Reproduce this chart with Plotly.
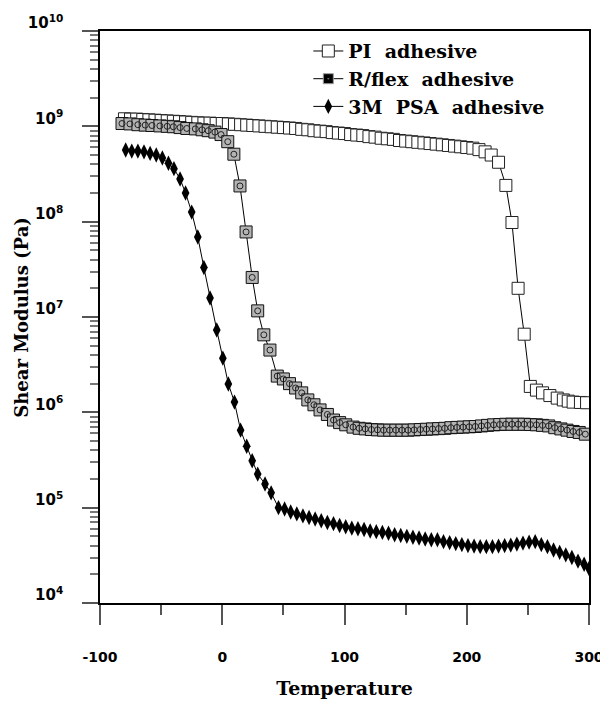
import plotly.graph_objects as go

# ---------------- data ----------------
pi_temp = [-80, -75, -70, -65, -60, -55, -50, -45, -40, -35, -30, -25, -20, -15, -10, -5,
           0, 5, 10, 15, 20, 25, 30, 35, 40, 45, 50, 55, 60, 65, 70, 75, 80, 85, 90, 95,
           100, 105, 110, 115, 120, 125, 130, 135, 140, 145, 150, 155, 160, 165, 170, 175,
           180, 185, 190, 195, 200, 205, 210, 215, 220, 226, 232, 237, 242, 247,
           252, 257, 262, 268, 274, 279, 283, 287, 293, 298]
pi_mod = [1.20e9, 1.19e9, 1.19e9, 1.18e9, 1.17e9, 1.16e9, 1.15e9, 1.14e9, 1.13e9, 1.12e9,
          1.11e9, 1.10e9, 1.09e9, 1.08e9, 1.08e9, 1.07e9, 1.07e9, 1.06e9, 1.05e9, 1.04e9,
          1.03e9, 1.02e9, 1.01e9, 1.00e9, 9.9e8, 9.8e8, 9.7e8, 9.6e8, 9.5e8, 9.3e8,
          9.2e8, 9.0e8, 8.9e8, 8.8e8, 8.6e8, 8.5e8, 8.4e8, 8.2e8, 8.1e8, 8.0e8,
          7.8e8, 7.7e8, 7.5e8, 7.4e8, 7.3e8, 7.1e8, 7.0e8, 6.9e8, 6.8e8, 6.7e8,
          6.6e8, 6.5e8, 6.4e8, 6.3e8, 6.2e8, 6.1e8, 6.0e8, 5.9e8, 5.7e8, 5.4e8,
          5.0e8, 4.2e8, 2.4e8, 9.8e7, 2.0e7, 6.6e6,
          1.87e6, 1.71e6, 1.60e6, 1.50e6, 1.41e6, 1.35e6, 1.31e6, 1.28e6, 1.27e6, 1.26e6]

rflex_temp = [-82, -75.5, -69, -63, -57.5, -51, -45, -40, -34.5, -29, -22, -16.5, -11.5, -6,
              -1, 4.5, 9.5, 14.5, 19.5, 24.5, 29, 34, 39, 45, 50, 55, 60, 65, 70, 75, 80,
              86, 91, 96, 101, 107, 112, 117, 122, 127, 132, 137, 142, 147, 152, 157, 162,
              167, 172, 177, 182, 187, 192, 197, 202, 207, 212, 217, 222, 227, 232, 237,
              242, 247, 252, 257, 262, 267, 272, 277, 282, 287, 292, 297]
rflex_mod = [1.07e9, 1.06e9, 1.04e9, 1.03e9, 1.02e9, 1.01e9, 1.00e9, 9.9e8, 9.7e8, 9.5e8,
             9.4e8, 9.2e8, 9.0e8, 8.7e8, 8.2e8, 6.9e8, 5.1e8, 2.37e8, 7.8e7, 2.6e7,
             1.16e7, 6.5e6, 4.5e6, 2.4e6, 2.24e6, 2.0e6, 1.8e6, 1.6e6, 1.35e6, 1.2e6,
             1.06e6, 9.5e5, 8.3e5, 7.8e5, 7.4e5, 7.0e5, 6.8e5, 6.7e5, 6.6e5, 6.55e5,
             6.5e5, 6.5e5, 6.5e5, 6.5e5, 6.5e5, 6.55e5, 6.6e5, 6.65e5, 6.7e5, 6.75e5,
             6.8e5, 6.9e5, 6.95e5, 7.0e5, 7.05e5, 7.1e5, 7.2e5, 7.3e5, 7.4e5, 7.45e5,
             7.5e5, 7.5e5, 7.5e5, 7.5e5, 7.45e5, 7.4e5, 7.3e5, 7.2e5, 6.9e5, 6.7e5,
             6.5e5, 6.3e5, 6.15e5, 5.9e5]

psa_temp = [-79, -74, -69, -64, -59, -54, -49, -44, -39.5, -34.5, -30, -25, -20, -15, -10,
            -4.5, 0.5, 5, 10, 15, 20, 24.5, 29, 35, 40, 46, 51, 56, 61, 66, 71, 76, 81, 86,
            91, 96, 101, 106, 111, 116, 121, 126, 131, 136, 141, 146, 151, 156, 161, 166,
            171, 176, 181, 186, 191, 196, 201, 206, 211, 216, 221, 226, 231, 236, 241, 246,
            251, 256, 261, 266, 271, 276, 281, 286, 291, 296, 300]
psa_mod = [5.65e8, 5.5e8, 5.5e8, 5.4e8, 5.2e8, 5.0e8, 4.66e8, 4.1e8, 3.6e8, 2.8e8,
           2.0e8, 1.26e8, 6.9e7, 3.3e7, 1.58e7, 7.3e6, 3.7e6, 1.98e6, 1.28e6, 6.5e5,
           4.4e5, 3.1e5, 2.25e5, 1.77e5, 1.43e5, 1.0e5, 9.7e4, 9.0e4, 8.6e4, 8.2e4,
           7.9e4, 7.6e4, 7.3e4, 7.0e4, 6.8e4, 6.5e4, 6.3e4, 6.1e4, 6.0e4, 5.9e4,
           5.7e4, 5.6e4, 5.5e4, 5.4e4, 5.2e4, 5.1e4, 5.0e4, 4.9e4, 4.8e4, 4.7e4,
           4.6e4, 4.6e4, 4.4e4, 4.3e4, 4.2e4, 4.1e4, 4.0e4, 3.95e4, 3.9e4, 3.9e4,
           3.9e4, 3.95e4, 4.0e4, 4.05e4, 4.15e4, 4.25e4, 4.35e4, 4.4e4, 4.1e4, 3.9e4,
           3.6e4, 3.4e4, 3.2e4, 3.0e4, 2.75e4, 2.55e4, 2.3e4]

x_tick_vals = [-100, 0, 100, 200, 300]
x_tick_text = ["-100", "0", "100", "200", "300"]
y_tick_vals = [1e4, 1e5, 1e6, 1e7, 1e8, 1e9, 1e10]
y_tick_text = ["10<sup>4</sup>", "10<sup>5</sup>", "10<sup>6</sup>", "10<sup>7</sup>",
               "10<sup>8</sup>", "10<sup>9</sup>", "10<sup>10</sup>"]

NB = "\u00a0"
name_pi = f"PI{NB} adhesive"
name_rflex = f"R/flex{NB} adhesive"
name_psa = f"3M{NB} PSA{NB} adhesive"

# ---------------- figure ----------------
SERIF = "DejaVu Serif"
SANS = "DejaVu Sans"

fig = go.Figure()

fig.add_trace(go.Scatter(
    x=pi_temp, y=pi_mod, mode="lines+markers", name=name_pi, legendgroup="a",
    line=dict(color="black", width=1),
    marker=dict(symbol="square", size=12, color="white",
                line=dict(color="#222222", width=1)),
))

fig.add_trace(go.Scatter(
    x=rflex_temp, y=rflex_mod, mode="lines+markers", name=name_rflex,
    showlegend=False, legendgroup="b",
    line=dict(color="black", width=1),
    marker=dict(symbol="square", size=12, color="#b4b4b4",
                line=dict(color="#111111", width=1)),
))
fig.add_trace(go.Scatter(
    x=rflex_temp, y=rflex_mod, mode="markers", showlegend=False, hoverinfo="skip",
    legendgroup="b",
    marker=dict(symbol="circle-open", size=6, color="#222222", line=dict(width=1)),
))
# legend entry for R/flex (black square, as drawn in the original key)
fig.add_trace(go.Scatter(
    x=[None], y=[None], mode="lines+markers", name=name_rflex, legendgroup="b",
    line=dict(color="black", width=1),
    marker=dict(symbol="square-dot", size=10, color="black",
                line=dict(color="#9a9a9a", width=1)),
))

fig.add_trace(go.Scatter(
    x=psa_temp, y=psa_mod, mode="lines+markers", name=name_psa, legendgroup="c",
    line=dict(color="black", width=1),
    marker=dict(symbol="diamond-tall", size=11, color="black",
                line=dict(color="black", width=0)),
))

fig.update_layout(
    width=600, height=702,
    paper_bgcolor="white", plot_bgcolor="white",
    margin=dict(l=100, r=11, t=31, b=99, autoexpand=False),
    font=dict(family=SERIF, color="black"),
    showlegend=True,
    legend=dict(
        x=0.426, y=0.998, xanchor="left", yanchor="top",
        bgcolor="rgba(0,0,0,0)", borderwidth=0,
        font=dict(family=SERIF, size=19, weight="bold", color="black"),
        tracegroupgap=0, itemwidth=30,
    ),
    xaxis=dict(
        range=[-100, 300], showgrid=False, zeroline=False, automargin=False,
        showline=True, linecolor="black", linewidth=1.5, mirror=True,
        ticks="outside", ticklen=20, tickwidth=1.5, tickcolor="#555555",
        tickvals=x_tick_vals, ticktext=x_tick_text,
        tickfont=dict(family=SANS, size=14, weight="bold", color="black"),
        ticklabelstandoff=20, ticklabeloverflow="allow",
        minor=dict(ticks="outside", ticklen=10, tickwidth=1.5, tickcolor="#555555",
                   tickvals=[-50, 50, 150, 250], showgrid=False),
        title=dict(text="Temperature", standoff=18,
                   font=dict(family=SERIF, size=19, weight="bold", color="black")),
    ),
    yaxis=dict(
        type="log", range=[4, 10], showgrid=False, zeroline=False, automargin=False,
        showline=True, linecolor="black", linewidth=1.5, mirror=True,
        ticks="outside", ticklen=16, tickwidth=1.5, tickcolor="#555555",
        tickvals=y_tick_vals, ticktext=y_tick_text,
        tickfont=dict(family=SANS, size=15, weight="bold", color="black"),
        ticklabelstandoff=16, ticklabelshift=-8, ticklabeloverflow="allow",
        minor=dict(ticks="outside", ticklen=8, tickwidth=1.5, tickcolor="#777777",
                   tickvals=[m * 10 ** e for e in range(4, 10) for m in range(2, 10)],
                   showgrid=False),
    ),
    annotations=[dict(
        text="Shear Modulus (Pa)", textangle=-90, showarrow=False,
        xref="paper", yref="paper", x=-0.162, y=0.5, xanchor="center", yanchor="middle",
        font=dict(family=SERIF, size=18, weight="bold", color="black"),
    )],
)

fig.write_html(
    "out.html",
    config={"displayModeBar": False},
    post_script="document.body.style.margin='0';document.body.style.padding='0';",
)
